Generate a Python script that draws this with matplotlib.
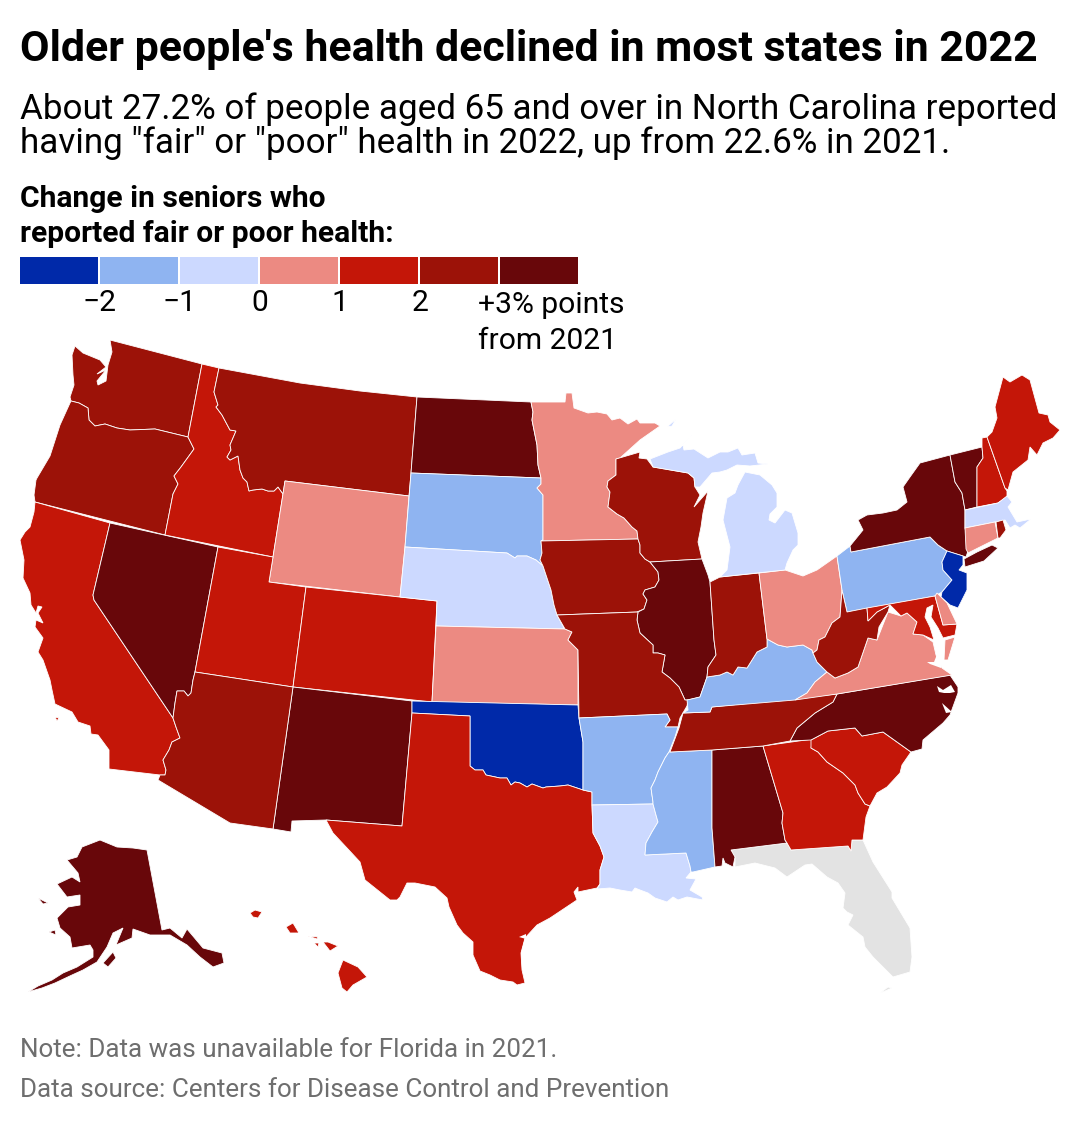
import matplotlib
matplotlib.use("Agg")
from matplotlib import pyplot as plt
from matplotlib.patches import Polygon

plt.rcParams['font.family'] = ['Roboto', 'DejaVu Sans']

# change in seniors reporting fair/poor health, binned: -3 is "below -2", +3 is "above +2"
bin_edges = [-3, -2, -1, 0, 1, 2, 3, 4]
bin_colors = ['#0029a9', '#8fb4f1', '#ccd9ff', '#ec8a82', '#c41608', '#9c1208', '#68070a']
tick_values = [-2, -1, 0, 1, 2]
tick_labels = ['\u22122', '\u22121', '0', '1', '2']

state_bins = {
    'WA': 5, 'OR': 5, 'CA': 4, 'NV': 6, 'ID': 4, 'MT': 5, 'WY': 3, 'UT': 4, 'AZ': 5, 'CO': 4,
    'NM': 6, 'ND': 6, 'SD': 1, 'NE': 2, 'KS': 3, 'OK': 0, 'TX': 4, 'MN': 3, 'IA': 5, 'MO': 5,
    'AR': 1, 'LA': 2, 'WI': 5, 'IL': 6, 'MI': 2, 'IN': 5, 'OH': 3, 'KY': 1, 'TN': 5, 'MS': 1,
    'AL': 6, 'GA': 4, 'SC': 4, 'NC': 6, 'VA': 3, 'WV': 5, 'PA': 1, 'NY': 6, 'NJ': 0, 'DE': 3,
    'MD': 4, 'CT': 3, 'RI': 5, 'MA': 2, 'VT': 6, 'NH': 4, 'ME': 4, 'AK': 6, 'HI': 4,
}
no_data_color = '#e3e3e3'

# state outlines (x, y in image pixels)
outlines = {
    'FL': [[(731,850),(787,843),(791,850),(848,846),(851,851),(852,840),(863,840),(873,862),(892,892),(892,898),(910,928),(912,957),(910,972),(893,977),(873,957),(865,947),(863,937),(848,925),(853,915),(847,912),(843,908),(845,893),(838,883),(827,877),(812,864),(805,865),(787,877),(775,868),(755,863),(735,867),(735,857)],
           [(880,993),(888,987),(892,988),(883,992)]],
    'WA': [[(110,340),(202,364),(188,437),(155,429),(130,430),(117,428),(105,424),(95,426),(89,420),(88,408),(79,403),(71,401),(70,397),(74,385),(73,375),(72,355),(75,346),(83,353),(100,360),(106,367),(97,374),(106,370),(97,381),(98,385),(106,381),(108,365),(112,352)]],
    'OR': [[(71,401),(79,403),(88,408),(89,420),(95,426),(105,424),(117,428),(130,430),(155,429),(188,437),(190,441),(194,449),(181,467),(174,476),(178,484),(173,494),(165,535),(35,502),(34,495),(36,480),(37,478),(50,456),(60,425),(70,403)]],
    'CA': [[(35,502),(110,523),(93,595),(94,600),(173,718),(176,727),(180,738),(172,742),(169,750),(163,760),(166,770),(165,775),(160,775),(109,769),(109,750),(98,735),(91,734),(90,726),(78,722),(72,712),(55,704),(52,690),(50,680),(43,660),(38,652),(43,638),(35,627),(36,620),(43,623),(38,613),(42,607),(38,606),(36,613),(31,605),(30,593),(23,578),(24,560),(20,540),(25,532),(30,527),(34,512)],
           [(55,717),(59,718),(57,721)]],
    'NV': [[(110,523),(218,547),(195,672),(193,680),(191,693),(188,696),(184,691),(177,691),(175,703),(173,718),(94,600),(93,595)]],
    'ID': [[(202,364),(219,368),(214,392),(218,405),(216,407),(222,415),(230,430),(236,431),(230,445),(231,450),(227,457),(230,460),(238,456),(240,470),(243,478),(247,482),(249,491),(253,490),(262,489),(268,491),(274,491),(278,487),(283,494),(273,557),(165,535),(173,494),(178,484),(174,476),(181,467),(194,449),(190,441),(188,437)]],
    'MT': [[(219,368),(300,383),(360,391),(417,397),(411,473),(409,496),(285,481),(283,494),(278,487),(274,491),(268,491),(262,489),(253,490),(249,491),(247,482),(243,478),(240,470),(238,456),(230,460),(227,457),(231,450),(230,445),(236,431),(230,430),(222,415),(216,407),(218,405),(214,392)]],
    'WY': [[(285,481),(409,496),(405,547),(400,597),(269,582),(273,557)]],
    'UT': [[(218,547),(273,557),(269,582),(306,587),(293,687),(195,672)]],
    'CO': [[(306,587),(437,601),(432,702),(293,687)]],
    'NM': [[(293,687),(412,701),(412,713),(402,826),(326,820),(292,821),(291,832),(273,829)]],
    'AZ': [[(195,672),(293,687),(273,829),(230,823),(158,780),(160,775),(165,775),(166,770),(163,760),(169,750),(172,742),(180,738),(176,727),(173,718),(175,703),(177,691),(184,691),(188,696),(191,693),(193,680)]],
    'ND': [[(417,397),(531,402),(533,412),(532,420),(535,435),(537,445),(538,465),(541,478),(411,473)]],
    'SD': [[(411,473),(541,478),(541,484),(537,488),(543,495),(543,540),(541,541),(542,553),(540,560),(543,566),(536,560),(527,556),(517,556),(515,558),(507,553),(405,547)]],
    'NE': [[(405,547),(507,553),(515,558),(517,556),(527,556),(536,560),(543,566),(547,578),(551,590),(554,605),(557,615),(564,628),(565,629),(436,626),(437,601),(400,597)]],
    'KS': [[(436,626),(565,629),(572,632),(568,640),(578,650),(578,705),(432,702)]],
    'OK': [[(412,701),(578,705),(579,718),(583,742),(583,790),(568,785),(560,786),(546,787),(543,788),(532,784),(527,787),(520,783),(515,782),(511,785),(507,778),(500,778),(486,775),(483,770),(475,770),(470,766),(470,716),(412,713)]],
    'TX': [[(412,713),(470,716),(470,766),(475,770),(483,770),(486,775),(500,778),(507,778),(511,785),(515,782),(520,783),(527,787),(532,784),(543,788),(546,787),(560,786),(568,785),(583,790),(592,792),(592,805),(593,833),(600,846),(604,857),(600,870),(600,884),(597,888),(578,892),(578,887),(574,892),(577,900),(550,918),(537,925),(525,938),(521,953),(522,970),(525,983),(517,985),(513,982),(500,980),(490,975),(480,971),(473,955),(473,942),(463,933),(457,925),(449,907),(447,898),(435,887),(415,883),(407,883),(400,897),(397,900),(390,900),(365,880),(360,862),(347,848),(333,833),(326,820),(402,826)]],
    'MN': [[(531,402),(565,402),(566,393),(572,393),(574,408),(588,413),(597,412),(607,414),(612,420),(620,418),(628,424),(637,419),(640,423),(655,423),(660,426),(640,440),(620,458),(616,459),(616,475),(608,481),(607,487),(610,492),(608,507),(617,514),(624,518),(632,527),(637,531),(638,539),(541,541),(543,540),(543,495),(537,488),(541,484),(541,478),(538,465),(537,445),(535,435),(532,420),(533,412)]],
    'IA': [[(541,541),(638,539),(640,545),(640,553),(645,559),(650,562),(658,572),(659,580),(655,587),(645,590),(643,594),(647,600),(644,609),(637,612),(557,615),(554,605),(551,590),(547,578),(543,566),(540,560),(542,553)]],
    'WI': [[(616,459),(640,452),(639,458),(647,459),(653,467),(688,473),(694,478),(695,487),(700,495),(694,507),(708,491),(703,513),(701,527),(698,542),(702,559),(650,562),(645,559),(640,553),(640,545),(638,539),(637,531),(632,527),(624,518),(617,514),(608,507),(610,492),(607,487),(608,481),(616,475)]],
    'IL': [[(650,562),(702,559),(708,575),(710,582),(714,640),(716,655),(708,667),(707,677),(700,697),(688,700),(685,700),(679,687),(670,678),(662,672),(665,655),(658,653),(653,653),(653,645),(640,633),(637,620),(638,612),(644,609),(647,600),(643,594),(645,590),(655,587),(659,580),(658,572)]],
    'MO': [[(557,615),(638,612),(637,620),(640,633),(653,645),(653,653),(658,653),(665,655),(662,672),(670,678),(679,687),(685,700),(688,700),(687,706),(680,718),(678,727),(665,727),(670,720),(667,714),(579,718),(578,650),(568,640),(572,632),(565,629)]],
    'AR': [[(579,718),(667,714),(670,720),(665,727),(678,727),(675,737),(669,752),(665,758),(658,772),(655,780),(651,788),(653,802),(653,804),(592,805),(592,792),(583,790),(583,742)]],
    'LA': [[(592,805),(653,804),(656,815),(658,822),(652,832),(646,843),(645,855),(686,853),(690,866),(691,872),(686,878),(696,879),(690,890),(702,897),(703,900),(687,897),(678,900),(673,897),(667,902),(655,898),(648,893),(640,890),(635,888),(632,892),(620,890),(610,888),(597,889),(600,884),(600,870),(604,857),(600,846),(593,833)]],
    'MS': [[(669,752),(712,750),(712,828),(715,867),(693,872),(691,872),(690,866),(686,853),(645,855),(646,843),(652,832),(658,822),(656,815),(653,804),(653,802),(651,788),(655,780),(658,772),(665,758)]],
    'AL': [[(712,750),(763,746),(783,813),(782,823),(785,840),(787,843),(731,850),(735,857),(733,867),(725,863),(723,858),(722,866),(715,867),(712,828)]],
    'GA': [[(763,746),(813,739),(811,748),(818,752),(827,762),(843,773),(855,785),(858,793),(865,804),(870,806),(866,817),(863,840),(852,840),(851,851),(848,846),(791,850),(787,843),(785,840),(782,823),(783,813)]],
    'SC': [[(811,740),(828,731),(855,728),(862,736),(883,732),(911,752),(902,765),(900,773),(887,787),(877,793),(870,806),(865,804),(858,793),(855,785),(843,773),(827,762),(818,752),(811,748)]],
    'NC': [[(790,741),(797,728),(815,713),(833,702),(837,694),(950,675),(958,687),(958,693),(950,715),(943,723),(923,740),(922,749),(911,752),(883,732),(862,736),(855,728),(828,731),(811,740)]],
    'TN': [[(683,713),(710,712),(712,707),(837,694),(833,702),(815,713),(797,728),(790,741),(763,746),(712,750),(670,752),(679,728)]],
    'KY': [[(767,639),(778,645),(787,647),(803,645),(812,650),(813,653),(817,662),(827,672),(815,682),(807,693),(795,700),(712,707),(710,712),(683,713),(688,710),(687,700),(700,697),(707,677),(720,675),(727,672),(733,675),(738,667),(747,668),(757,652),(767,647)]],
    'IN': [[(720,577),(759,573),(767,639),(767,647),(757,652),(747,668),(738,667),(733,675),(727,672),(720,675),(707,677),(708,667),(716,655),(714,640),(710,582)]],
    'OH': [[(759,573),(785,570),(803,576),(817,570),(837,556),(842,590),(840,617),(832,623),(825,637),(819,640),(817,650),(813,653),(812,650),(803,645),(787,647),(778,645),(767,639)]],
    'MI': [[(720,577),(785,570),(787,563),(793,550),(798,545),(798,533),(792,513),(785,510),(775,523),(769,520),(770,514),(777,507),(777,493),(772,485),(760,475),(745,472),(738,485),(735,493),(727,498),(723,520),(730,547),(727,570)],
           [(650,459),(668,452),(680,448),(690,437),(693,435),(683,445),(684,450),(694,449),(708,458),(720,452),(728,452),(738,448),(742,455),(755,453),(758,463),(768,464),(750,466),(737,465),(727,470),(720,472),(712,473),(700,487),(695,487),(694,478),(688,473),(653,467)],
           [(667,427),(676,419),(672,426)]],
    'PA': [[(851,552),(930,537),(938,545),(947,551),(942,562),(943,570),(952,580),(942,592),(935,596),(847,612),(842,590),(837,556),(850,546)]],
    'NY': [[(851,552),(850,546),(863,530),(858,520),(867,515),(883,513),(897,510),(907,502),(903,487),(910,477),(920,463),(950,455),(955,482),(962,493),(965,510),(965,528),(969,548),(966,557),(963,556),(947,551),(938,545),(930,537)],
           [(964,559),(965,567),(984,561),(998,548),(992,545),(977,552)]],
    'NJ': [[(947,551),(963,556),(963,565),(959,570),(967,573),(967,590),(958,608),(950,605),(941,597),(942,592),(952,580),(943,570),(942,562)]],
    'VT': [[(950,455),(982,447),(983,458),(977,467),(977,507),(965,510),(962,493),(955,482)]],
    'NH': [[(982,438),(987,437),(1005,488),(1007,491),(1007,497),(998,503),(977,507),(977,467),(983,458),(982,447)]],
    'ME': [[(987,437),(992,432),(997,418),(995,407),(1003,377),(1010,382),(1022,375),(1030,380),(1039,413),(1048,415),(1050,422),(1060,430),(1053,438),(1043,443),(1037,455),(1030,447),(1028,460),(1013,472),(1008,490),(1005,488)]],
    'MA': [[(965,510),(998,503),(1007,496),(1012,502),(1008,507),(1017,522),(1031,519),(1020,528),(1015,525),(1010,528),(1005,520),(995,522),(965,528)]],
    'CT': [[(965,528),(995,522),(998,538),(968,553),(966,549)]],
    'RI': [[(996,522),(1003,520),(1006,530),(1000,538),(998,538)]],
    'VA': [[(795,700),(807,693),(815,682),(827,672),(835,678),(848,673),(858,667),(868,638),(877,640),(888,612),(901,616),(907,613),(917,622),(913,634),(923,635),(933,642),(936,655),(942,668),(952,675),(837,694)],
           [(945,640),(955,637),(948,660),(944,660)]],
    'WV': [[(813,653),(817,650),(819,640),(825,637),(832,623),(840,617),(842,590),(847,612),(867,608),(868,621),(877,612),(890,605),(888,612),(879,627),(877,640),(868,638),(858,667),(848,673),(835,678),(827,672),(817,662)]],
    'MD': [[(867,608),(935,596),(943,625),(957,624),(955,635),(943,638),(938,628),(931,617),(933,605),(927,608),(925,617),(930,627),(934,640),(923,635),(913,634),(917,622),(907,613),(901,616),(890,605),(877,612),(868,621)]],
    'DE': [[(935,596),(937,593),(947,603),(957,624),(943,625)]],
    'AK': [[(147,850),(162,930),(170,928),(182,938),(187,929),(203,948),(222,953),(224,963),(213,967),(200,957),(187,945),(170,935),(150,935),(133,929),(132,938),(116,945),(123,928),(113,933),(107,947),(97,962),(83,970),(72,975),(55,983),(42,988),(28,992),(38,986),(52,980),(63,973),(77,967),(93,957),(93,950),(90,945),(72,948),(70,937),(60,928),(57,918),(68,907),(80,905),(80,895),(67,897),(57,884),(72,877),(80,882),(78,873),(67,860),(77,857),(82,847),(100,840),(117,847),(133,848)],
           [(103,963),(113,952),(116,958),(108,967)],
           [(49,932),(55,930),(56,935)],
           [(38,898),(48,903),(43,904)]],
    'HI': [[(250,913),(255,910),(262,912),(258,918),(253,917)],
           [(286,927),(293,923),(299,933),(290,933)],
           [(308,936),(318,937),(317,939)],
           [(314,943),(319,943),(318,947)],
           [(323,942),(328,942),(338,946),(330,951)],
           [(343,960),(358,967),(367,977),(353,985),(347,992),(342,988),(338,973)]],
}

# water cut out of the states
water = [
    [(101,350),(108,348),(106,353)],
    [(938,652),(942,640),(944,660),(941,668),(930,664),(927,662),(934,662)],
    [(937,686),(943,690),(951,685),(955,692),(950,693),(944,693),(939,692)],
    [(942,703),(952,712),(946,713),(944,708)],
    [(519,937),(526,934),(526,939)],
    [(525,938),(521,953),(522,968),(523,968),(522,953),(526,939)],
]

fig = plt.figure(figsize=(10.8, 11.26), dpi=100)

ax = fig.add_axes([0, 0, 1, 1])
ax.set_xlim(0, 1080)
ax.set_ylim(1126, 0)
ax.axis("off")

for code, parts in outlines.items():
    color = bin_colors[state_bins[code]] if code in state_bins else no_data_color
    for part in parts:
        ax.add_patch(Polygon(part, closed=True, facecolor=color, edgecolor='white', linewidth=0.6, zorder=2))
for part in water:
    ax.add_patch(Polygon(part, closed=True, facecolor='white', edgecolor='none', zorder=3))

# titles
ax.text(20, 49, "Older people's health declined in most states in 2022", fontsize=30.85, fontweight='bold', color='black', va='center')
ax.text(20, 109, 'About 27.2% of people aged 65 and over in North Carolina reported', fontsize=25.2, color='black', va='center')
ax.text(20, 143, 'having "fair" or "poor" health in 2022, up from 22.6% in 2021.', fontsize=25.2, color='black', va='center')
ax.text(20, 199, 'Change in seniors who', fontsize=21.6, fontweight='bold', color='black', va='center')
ax.text(20, 234, 'reported fair or poor health:', fontsize=21.6, fontweight='bold', color='black', va='center')

# legend
leg = fig.add_axes([20/1080, 1-284/1126, 560/1080, 27/1126])
leg.set_xlim(bin_edges[0], bin_edges[-1])
leg.set_ylim(0, 1)
leg.axis("off")
for i, color in enumerate(bin_colors):
    leg.bar(bin_edges[i], 1, width=bin_edges[i+1]-bin_edges[i]-0.03, align='edge', color=color)
for value, label in zip(tick_values, tick_labels):
    leg.annotate(label, (value, 0), xytext=(0, -13.5), textcoords='offset points', ha='center', va='center', fontsize=21.6)
ax.text(478, 305, '+3% points', fontsize=21.6, va='center')
ax.text(478, 341, 'from 2021', fontsize=21.6, va='center')

# footer
ax.text(20, 1050, 'Note: Data was unavailable for Florida in 2021.', fontsize=18.7, color='#6e6e6e', va='center')
ax.text(20, 1090, 'Data source: Centers for Disease Control and Prevention', fontsize=18.7, color='#6e6e6e', va='center')

plt.savefig('out.png', dpi=100)
